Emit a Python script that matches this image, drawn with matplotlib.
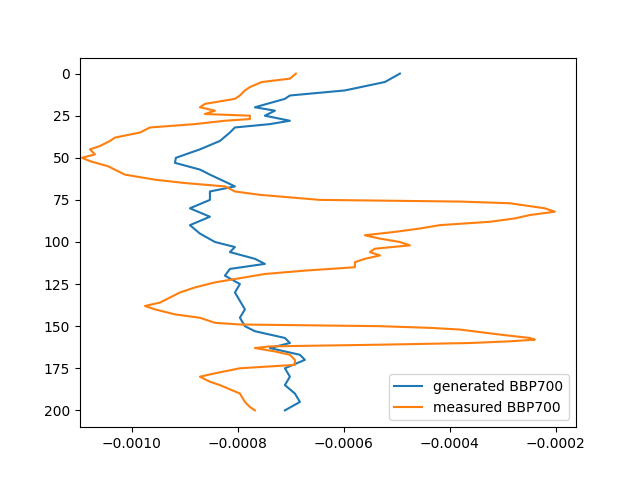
import numpy as np
import matplotlib
matplotlib.use("Agg")
import matplotlib.pyplot as plt

# depth profiles
depth_gen = [0, 5, 10, 13, 15, 20, 22, 25, 28, 30, 32, 35, 40, 45, 50, 53, 57, 60, 65, 67,
             70, 75, 80, 85, 90, 95, 100, 103, 106, 110, 113, 116, 120, 125, 130, 135, 140,
             145, 150, 153, 157, 160, 163, 167, 170, 175, 180, 185, 190, 195, 200]
gen_px = [400, 385, 345, 290, 285, 255, 275, 265, 290, 270, 235, 230, 220, 200, 176, 175,
          200, 210, 228, 235, 210, 210, 190, 210, 190, 200, 215, 235, 230, 255, 265, 230,
          225, 240, 235, 240, 245, 240, 245, 255, 285, 290, 270, 300, 305, 285, 290, 285,
          295, 300, 285]

depth_meas = [0, 3, 5, 8, 10, 13, 15, 18, 20, 22, 24, 25, 27, 28, 30, 32, 35, 38, 40, 43,
              45, 48, 50, 52, 55, 60, 63, 65, 67, 70, 72, 75, 76, 77, 80, 82, 84, 86, 88,
              90, 92, 94, 96, 98, 100, 102, 104, 106, 108, 110, 112, 115, 117, 119, 121,
              124, 127, 130, 133, 136, 138, 140, 143, 145, 148, 149, 150, 151, 152, 155,
              157, 158, 159, 160, 161, 162, 163, 165, 167, 170, 173, 175, 178, 180, 183,
              185, 190, 195, 198, 200]
meas_px = [296, 290, 262, 250, 245, 240, 235, 205, 200, 215, 205, 250, 250, 225, 195, 150,
           140, 115, 110, 100, 90, 95, 82, 90, 108, 125, 155, 185, 225, 235, 260, 320, 460,
           510, 545, 555, 530, 515, 490, 440, 420, 395, 365, 380, 400, 410, 375, 370, 380,
           365, 355, 355, 305, 265, 245, 215, 195, 180, 170, 160, 145, 155, 175, 200, 215,
           240, 380, 430, 460, 500, 530, 535, 510, 470, 380, 270, 255, 275, 290, 295, 295,
           240, 215, 200, 210, 220, 240, 245, 250, 255]

# convert pixel readings to data units
generated = [-0.001 + (p - 132) / 530000 for p in gen_px]
measured = [-0.001 + (p - 132) / 530000 for p in meas_px]

fig, ax = plt.subplots(figsize=(6.4, 4.8), dpi=100)
ax.plot(generated, depth_gen, label="generated BBP700")
ax.plot(measured, depth_meas, label="measured BBP700")
ax.set_xlim(-0.001098, -0.000162)
ax.set_ylim(210, -9.5)
ax.legend(loc="lower right")
fig.savefig("out.png")
